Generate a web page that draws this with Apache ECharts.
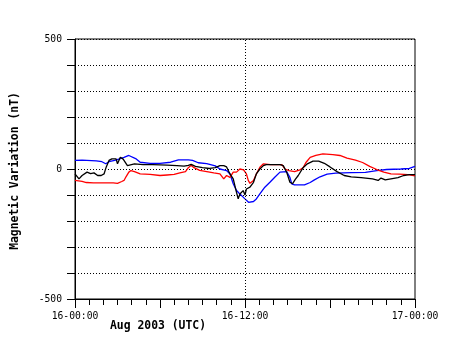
<!DOCTYPE html>
<html>
<head>
<meta charset="utf-8">
<script src="https://cdn.jsdelivr.net/npm/echarts@6/dist/echarts.min.js"></script>
<style>html,body{margin:0;padding:0;background:#fff}#c{width:454px;height:358px}</style>
</head>
<body>
<div id="c"></div>
<script>
// hours since 16-00:00 UTC, value in nT
const blackData = [[0,-19],[0.28,-38],[0.5,-25],[0.85,-12],[1.1,-18],[1.34,-15],[1.6,-25],[1.85,-25],[2.05,-19],[2.2,7],[2.4,33],[2.6,39],[2.9,39],[3.0,20],[3.2,45],[3.4,38],[3.7,13],[4.2,20],[4.8,17],[5.5,17],[6.5,15],[7.2,13],[7.7,11],[8.0,14],[8.2,18],[8.5,10],[9.0,5],[9.5,2],[9.9,5],[10.23,13],[10.5,13],[10.7,8],[10.94,-19],[11.17,-38],[11.4,-90],[11.52,-115],[11.64,-96],[11.75,-90],[11.87,-83],[12.0,-100],[12.1,-77],[12.35,-70],[12.6,-51],[12.8,-19],[13.05,0],[13.3,13],[13.5,17],[14.47,17],[14.7,13],[14.94,-12],[15.17,-51],[15.35,-57],[15.55,-40],[15.76,-25],[16.1,5],[16.4,20],[16.8,30],[17.2,30],[17.6,22],[18.0,8],[18.5,-10],[19.0,-25],[19.5,-30],[20.2,-33],[21.0,-38],[21.4,-44],[21.6,-35],[21.9,-42],[22.3,-38],[22.8,-33],[23.2,-25],[23.6,-22],[24.0,-22]];
const redData = [[0,-44],[0.5,-48],[0.8,-52],[1.3,-53],[2.0,-53],[2.7,-53],[3.0,-55],[3.3,-48],[3.46,-44],[3.6,-30],[3.8,-12],[3.95,-6],[4.2,-10],[4.6,-19],[5.3,-21],[6.0,-25],[6.5,-23],[7.0,-21],[7.4,-15],[7.8,-10],[8.0,5],[8.2,14],[8.4,5],[8.8,-5],[9.3,-10],[9.8,-15],[10.23,-19],[10.5,-38],[10.7,-25],[10.94,-32],[11.17,-12],[11.4,-12],[11.64,0],[11.9,-3],[12.1,-19],[12.23,-44],[12.35,-55],[12.6,-44],[12.8,-19],[13.05,7],[13.3,20],[13.8,17],[14.6,17],[14.82,0],[15.1,-6],[15.5,-10],[15.88,-3],[16.1,5],[16.3,25],[16.6,45],[17.0,52],[17.5,58],[18.2,55],[18.7,52],[19.2,42],[19.8,34],[20.3,25],[20.8,10],[21.3,-2],[21.8,-12],[22.3,-19],[22.9,-20],[23.5,-22],[24.0,-26]];
const blueData = [[0,33],[0.5,34],[1.5,31],[1.9,28],[2.17,20],[2.4,28],[2.8,33],[3.2,40],[3.46,45],[3.8,52],[4.28,40],[4.6,26],[5.3,22],[6.0,22],[6.75,26],[7.3,35],[8.0,35],[8.3,33],[8.7,24],[9.3,21],[9.9,12],[10.23,0],[10.7,-6],[10.94,-19],[11.17,-57],[11.4,-83],[11.64,-96],[12.0,-115],[12.25,-128],[12.6,-125],[12.8,-115],[13.05,-96],[13.4,-70],[13.76,-51],[14.1,-32],[14.47,-12],[14.94,-10],[15.17,-32],[15.3,-57],[15.5,-61],[16.2,-61],[16.6,-52],[16.9,-42],[17.3,-30],[17.8,-20],[18.4,-16],[19.5,-14],[20.5,-13],[21.3,-6],[22.0,-2],[23.0,0],[23.6,2],[24.0,10]];
const xTickLabels = {0:'16-00:00', 12:'16-12:00', 24:'17-00:00'};
const yTickLabels = {'-500':'-500', '0':'0', '500':'500'};

const mono = '"DejaVu Sans Mono", monospace';
const chart = echarts.init(document.getElementById('c'), null, {renderer:'canvas'});
function line(name, data, color, extra) {
  return Object.assign({
    name, type:'line', data, showSymbol:false, symbol:'none', animation:false,
    lineStyle:{color, width:1.3}, itemStyle:{color}
  }, extra || {});
}
chart.setOption({
  animation:false,
  backgroundColor:'#fff',
  grid:{left:75, right:39, top:39, bottom:59, show:true, borderColor:'#000', borderWidth:1, backgroundColor:'transparent'},
  xAxis:{
    type:'value', min:0, max:24, interval:6,
    axisLine:{show:true, onZero:false, lineStyle:{color:'#000', width:1}},
    axisTick:{show:true, length:9, lineStyle:{color:'#000'}},
    minorTick:{show:true, splitNumber:6, length:6, lineStyle:{color:'#000'}},
    splitLine:{show:false},
    axisLabel:{margin:12, fontFamily:mono, fontSize:9.7, color:'#000',
      formatter:v => xTickLabels[v] || ''},
  },
  yAxis:{
    type:'value', min:-500, max:500, interval:100,
    axisLine:{show:true, onZero:false, lineStyle:{color:'#000', width:1}},
    axisTick:{show:true, length:8, lineStyle:{color:'#000'}},
    splitLine:{show:true, lineStyle:{color:'#000', type:[1,2], width:1}},
    axisLabel:{margin:13, fontFamily:mono, fontSize:9.7, color:'#000',
      formatter:v => yTickLabels[String(v)] || ''},
  },
  graphic:[
    {type:'text', left:110, top:321, style:{text:'Aug 2003 (UTC)', font:'bold 11.4px ' + mono, fill:'#000'}},
    {type:'text', x:15, y:171, rotation:Math.PI/2, style:{text:'Magnetic Variation (nT)', font:'bold 11.4px ' + mono, fill:'#000', align:'center', verticalAlign:'middle'}}
  ],
  series:[
    line('blue', blueData, '#0000ff', {markLine:{silent:true, symbol:'none', animation:false, label:{show:false},
      lineStyle:{color:'#000', type:[1,2], width:1}, data:[{xAxis:12}]}}),
    line('red', redData, '#ff0000'),
    line('black', blackData, '#000000'),
  ]
});
</script>
</body>
</html>
